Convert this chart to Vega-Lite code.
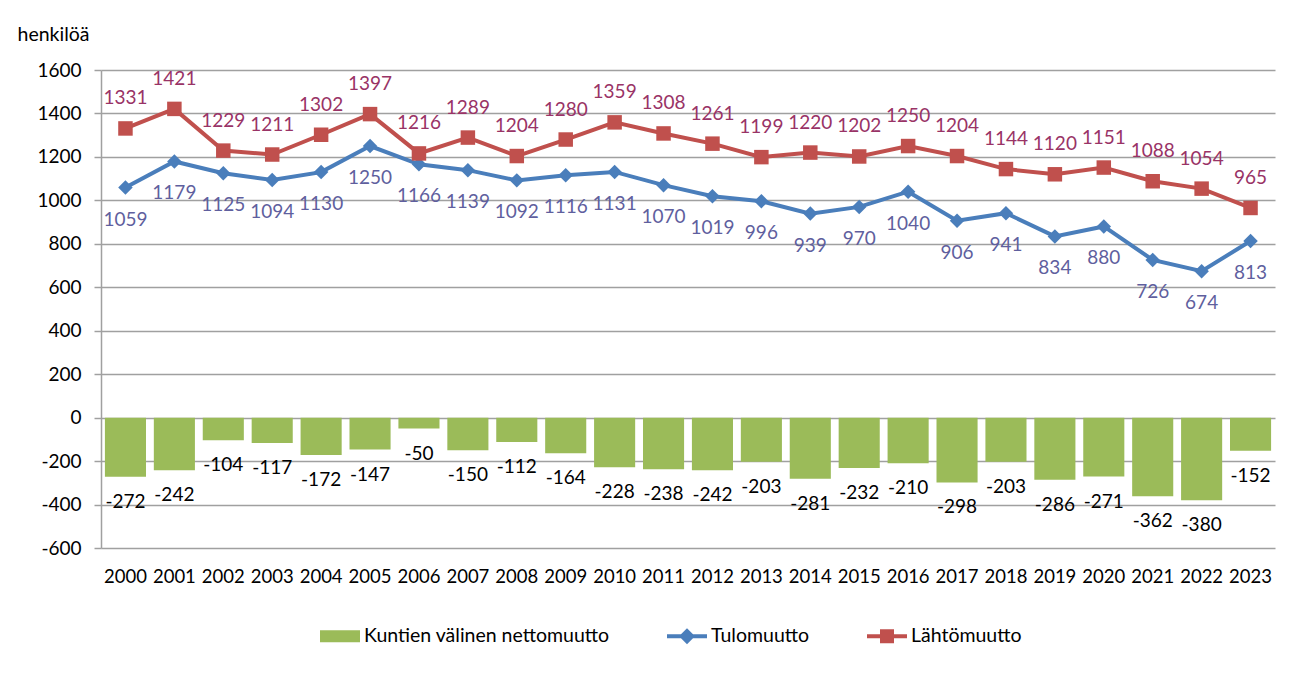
{
  "$schema": "https://vega.github.io/schema/vega-lite/v6.json",
  "width": 1174,
  "height": 478,
  "autosize": {"type": "none"},
  "padding": {"left": 101, "top": 70, "right": 23, "bottom": 133},
  "background": "#ffffff",
  "config": {
    "font": "Lato",
    "view": {"stroke": null}
  },
  "data": {
    "values": [
      {"year": "2000", "series": "Kuntien välinen nettomuutto", "value": -272},
      {"year": "2001", "series": "Kuntien välinen nettomuutto", "value": -242},
      {"year": "2002", "series": "Kuntien välinen nettomuutto", "value": -104},
      {"year": "2003", "series": "Kuntien välinen nettomuutto", "value": -117},
      {"year": "2004", "series": "Kuntien välinen nettomuutto", "value": -172},
      {"year": "2005", "series": "Kuntien välinen nettomuutto", "value": -147},
      {"year": "2006", "series": "Kuntien välinen nettomuutto", "value": -50},
      {"year": "2007", "series": "Kuntien välinen nettomuutto", "value": -150},
      {"year": "2008", "series": "Kuntien välinen nettomuutto", "value": -112},
      {"year": "2009", "series": "Kuntien välinen nettomuutto", "value": -164},
      {"year": "2010", "series": "Kuntien välinen nettomuutto", "value": -228},
      {"year": "2011", "series": "Kuntien välinen nettomuutto", "value": -238},
      {"year": "2012", "series": "Kuntien välinen nettomuutto", "value": -242},
      {"year": "2013", "series": "Kuntien välinen nettomuutto", "value": -203},
      {"year": "2014", "series": "Kuntien välinen nettomuutto", "value": -281},
      {"year": "2015", "series": "Kuntien välinen nettomuutto", "value": -232},
      {"year": "2016", "series": "Kuntien välinen nettomuutto", "value": -210},
      {"year": "2017", "series": "Kuntien välinen nettomuutto", "value": -298},
      {"year": "2018", "series": "Kuntien välinen nettomuutto", "value": -203},
      {"year": "2019", "series": "Kuntien välinen nettomuutto", "value": -286},
      {"year": "2020", "series": "Kuntien välinen nettomuutto", "value": -271},
      {"year": "2021", "series": "Kuntien välinen nettomuutto", "value": -362},
      {"year": "2022", "series": "Kuntien välinen nettomuutto", "value": -380},
      {"year": "2023", "series": "Kuntien välinen nettomuutto", "value": -152},
      {"year": "2000", "series": "Tulomuutto", "value": 1059},
      {"year": "2001", "series": "Tulomuutto", "value": 1179},
      {"year": "2002", "series": "Tulomuutto", "value": 1125},
      {"year": "2003", "series": "Tulomuutto", "value": 1094},
      {"year": "2004", "series": "Tulomuutto", "value": 1130},
      {"year": "2005", "series": "Tulomuutto", "value": 1250},
      {"year": "2006", "series": "Tulomuutto", "value": 1166},
      {"year": "2007", "series": "Tulomuutto", "value": 1139},
      {"year": "2008", "series": "Tulomuutto", "value": 1092},
      {"year": "2009", "series": "Tulomuutto", "value": 1116},
      {"year": "2010", "series": "Tulomuutto", "value": 1131},
      {"year": "2011", "series": "Tulomuutto", "value": 1070},
      {"year": "2012", "series": "Tulomuutto", "value": 1019},
      {"year": "2013", "series": "Tulomuutto", "value": 996},
      {"year": "2014", "series": "Tulomuutto", "value": 939},
      {"year": "2015", "series": "Tulomuutto", "value": 970},
      {"year": "2016", "series": "Tulomuutto", "value": 1040},
      {"year": "2017", "series": "Tulomuutto", "value": 906},
      {"year": "2018", "series": "Tulomuutto", "value": 941},
      {"year": "2019", "series": "Tulomuutto", "value": 834},
      {"year": "2020", "series": "Tulomuutto", "value": 880},
      {"year": "2021", "series": "Tulomuutto", "value": 726},
      {"year": "2022", "series": "Tulomuutto", "value": 674},
      {"year": "2023", "series": "Tulomuutto", "value": 813},
      {"year": "2000", "series": "Lähtömuutto", "value": 1331},
      {"year": "2001", "series": "Lähtömuutto", "value": 1421},
      {"year": "2002", "series": "Lähtömuutto", "value": 1229},
      {"year": "2003", "series": "Lähtömuutto", "value": 1211},
      {"year": "2004", "series": "Lähtömuutto", "value": 1302},
      {"year": "2005", "series": "Lähtömuutto", "value": 1397},
      {"year": "2006", "series": "Lähtömuutto", "value": 1216},
      {"year": "2007", "series": "Lähtömuutto", "value": 1289},
      {"year": "2008", "series": "Lähtömuutto", "value": 1204},
      {"year": "2009", "series": "Lähtömuutto", "value": 1280},
      {"year": "2010", "series": "Lähtömuutto", "value": 1359},
      {"year": "2011", "series": "Lähtömuutto", "value": 1308},
      {"year": "2012", "series": "Lähtömuutto", "value": 1261},
      {"year": "2013", "series": "Lähtömuutto", "value": 1199},
      {"year": "2014", "series": "Lähtömuutto", "value": 1220},
      {"year": "2015", "series": "Lähtömuutto", "value": 1202},
      {"year": "2016", "series": "Lähtömuutto", "value": 1250},
      {"year": "2017", "series": "Lähtömuutto", "value": 1204},
      {"year": "2018", "series": "Lähtömuutto", "value": 1144},
      {"year": "2019", "series": "Lähtömuutto", "value": 1120},
      {"year": "2020", "series": "Lähtömuutto", "value": 1151},
      {"year": "2021", "series": "Lähtömuutto", "value": 1088},
      {"year": "2022", "series": "Lähtömuutto", "value": 1054},
      {"year": "2023", "series": "Lähtömuutto", "value": 965}
    ]
  },
  "encoding": {
    "x": {
      "field": "year",
      "type": "ordinal",
      "scale": {"paddingInner": 0.16, "paddingOuter": 0.08},
      "axis": {
        "title": null,
        "labelAngle": 0,
        "labelFontSize": 18.5,
        "labelColor": "#000000",
        "labelPadding": 19,
        "domain": false,
        "ticks": false,
        "grid": false
      }
    },
    "y": {
      "field": "value",
      "type": "quantitative",
      "scale": {"domain": [-600, 1600], "nice": false, "zero": false},
      "axis": {
        "values": [-600, -400, -200, 0, 200, 400, 600, 800, 1000, 1200, 1400, 1600],
        "labelExpr": "datum.value + ''",
        "grid": true,
        "gridColor": "#a0a0a0",
        "gridWidth": 1.5,
        "domain": true,
        "domainColor": "#a0a0a0",
        "domainWidth": 1.5,
        "ticks": true,
        "tickColor": "#a0a0a0",
        "tickWidth": 1.5,
        "tickSize": 7,
        "labelPadding": 13,
        "labelFontSize": 19,
        "labelColor": "#000000",
        "title": "henkilöä",
        "titleAngle": 0,
        "titleAlign": "left",
        "titleBaseline": "alphabetic",
        "titleX": -84,
        "titleY": -30,
        "titleFontSize": 19.5,
        "titleFontWeight": "normal",
        "titleColor": "#000000"
      }
    },
    "color": {
      "field": "series",
      "type": "nominal",
      "scale": {
        "domain": ["Kuntien välinen nettomuutto", "Tulomuutto", "Lähtömuutto"],
        "range": ["#9BBB59", "#4A7EBB", "#C0504D"]
      },
      "legend": {
        "orient": "none",
        "legendX": 219,
        "legendY": 546,
        "direction": "horizontal",
        "title": null,
        "labelFontSize": 19.5,
        "labelColor": "#000000",
        "labelLimit": 400,
        "labelOffset": 4,
        "columnPadding": 57,
        "symbolSize": 1600,
        "symbolStrokeWidth": 0,
        "encode": {
          "symbols": {
            "update": {
              "shape": {"signal": "datum.value === 'Tulomuutto' ? 'M-1,-0.1L1,-0.1L1,0.1L-1,0.1ZM0,-0.4L0.4,0L0,0.4L-0.4,0Z' : (datum.value === 'Lähtömuutto' ? 'M-1,-0.1L1,-0.1L1,0.1L-1,0.1ZM-0.35,-0.35L0.35,-0.35L0.35,0.35L-0.35,0.35Z' : 'M-1,-0.3L1,-0.3L1,0.3L-1,0.3Z')"},
              "fill": {"signal": "scale('color', datum.value)"},
              "stroke": {"value": "transparent"},
              "opacity": {"value": 1},
              "fillOpacity": {"value": 1}
            }
          }
        }
      }
    }
  },
  "layer": [
    {
      "transform": [{"filter": "datum.series === 'Kuntien välinen nettomuutto'"}],
      "mark": {"type": "bar"}
    },
    {
      "transform": [{"filter": "datum.series !== 'Kuntien välinen nettomuutto'"}],
      "mark": {"type": "line", "strokeWidth": 4}
    },
    {
      "transform": [{"filter": "datum.series !== 'Kuntien välinen nettomuutto'"}],
      "mark": {"type": "point", "filled": true, "opacity": 1},
      "encoding": {
        "shape": {
          "field": "series",
          "type": "nominal",
          "scale": {"domain": ["Tulomuutto", "Lähtömuutto"], "range": ["diamond", "square"]},
          "legend": null
        },
        "size": {"value": 210}
      }
    },
    {
      "transform": [{"filter": "datum.series === 'Kuntien välinen nettomuutto'"}],
      "mark": {"type": "text", "dy": 25, "baseline": "middle", "fontSize": 19},
      "encoding": {"text": {"field": "value"}, "color": {"value": "#000000"}}
    },
    {
      "transform": [{"filter": "datum.series === 'Tulomuutto'"}],
      "mark": {"type": "text", "dy": 32, "baseline": "middle", "fontSize": 19},
      "encoding": {"text": {"field": "value"}, "color": {"value": "#5F5F9E"}}
    },
    {
      "transform": [{"filter": "datum.series === 'Lähtömuutto'"}],
      "mark": {"type": "text", "dy": -30, "baseline": "middle", "fontSize": 19},
      "encoding": {"text": {"field": "value"}, "color": {"value": "#993366"}}
    }
  ]
}
